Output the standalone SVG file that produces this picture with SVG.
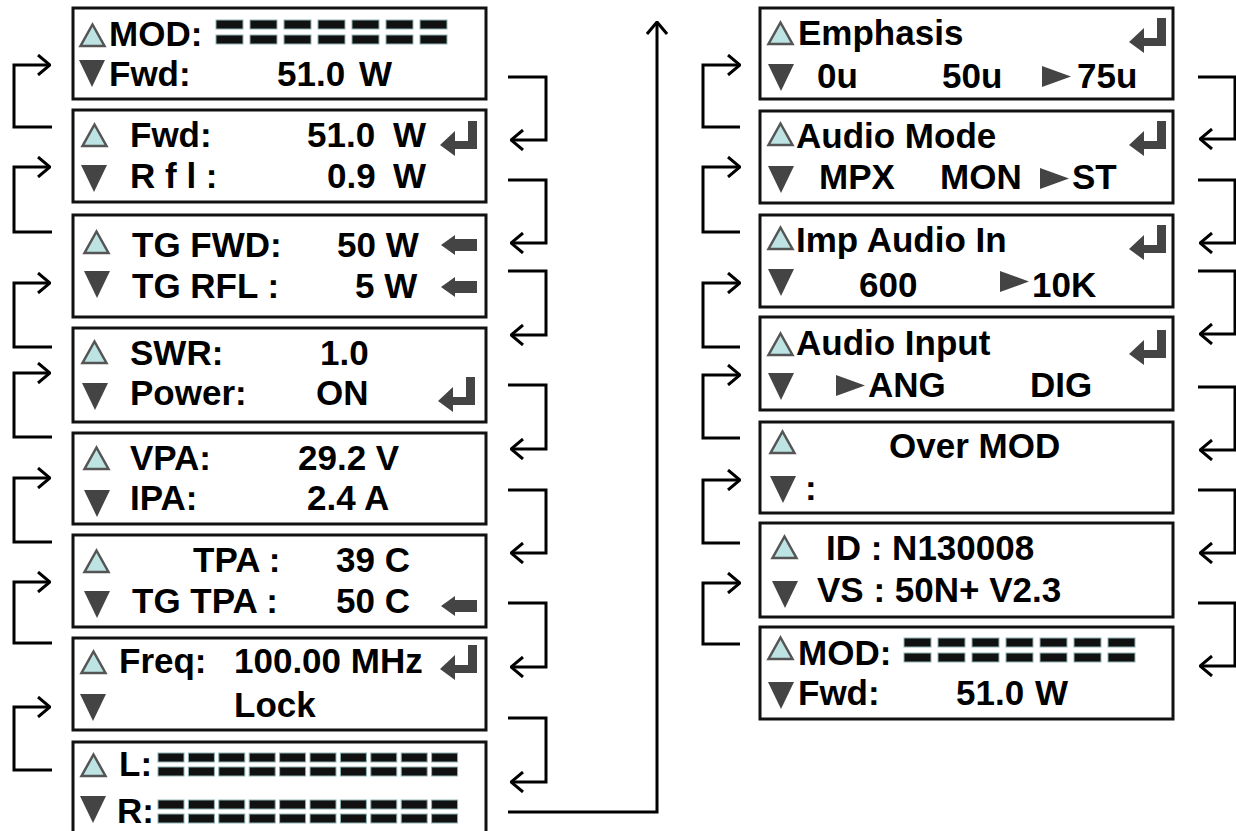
<svg xmlns="http://www.w3.org/2000/svg" xmlns:xlink="http://www.w3.org/1999/xlink" width="1236" height="831" viewBox="0 0 1236 831">
<style>
.box{fill:#fff;stroke:#111;stroke-width:3}
.t{font-family:"Liberation Sans",Arial,sans-serif;font-weight:bold;font-size:35px;fill:#000}
.c{fill:none;stroke:#000;stroke-width:3;marker-end:url(#ah)}
.up{fill:#bde3e3;stroke:#555;stroke-width:2.5;stroke-linejoin:miter}
.dk{fill:#444}
.bar{fill:#111;stroke:#8fb3b3;stroke-width:1}
</style>
<defs>
<marker id="ah" viewBox="0 0 14 22" refX="13" refY="11" markerWidth="14" markerHeight="22" orient="auto" markerUnits="userSpaceOnUse"><path d="M1,1 L13,11 L1,21" fill="none" stroke="#000" stroke-width="3"/></marker>
<polygon id="up" class="up" points="12.5,1.5 24.5,23 0.5,23"/>
<polygon id="dn" class="dk" points="0,0 26,0 13,27"/>
<path id="ent" class="dk" d="M37,0 H28 V20 H15 V10 L0,24 L15,35 V28 H37 Z"/>
<path id="la" class="dk" d="M0,10 L14,0 V4 H36 V16 H14 V20 Z"/>
<polygon id="rt" class="dk" points="0,0 29,10.5 0,21"/>
<g id="bars7">
<rect class="bar" x="0" y="0" width="27" height="9"/><rect class="bar" x="0" y="15" width="27" height="9"/>
<rect class="bar" x="34" y="0" width="27" height="9"/><rect class="bar" x="34" y="15" width="27" height="9"/>
<rect class="bar" x="68" y="0" width="27" height="9"/><rect class="bar" x="68" y="15" width="27" height="9"/>
<rect class="bar" x="102" y="0" width="27" height="9"/><rect class="bar" x="102" y="15" width="27" height="9"/>
<rect class="bar" x="136" y="0" width="27" height="9"/><rect class="bar" x="136" y="15" width="27" height="9"/>
<rect class="bar" x="170" y="0" width="27" height="9"/><rect class="bar" x="170" y="15" width="27" height="9"/>
<rect class="bar" x="204" y="0" width="27" height="9"/><rect class="bar" x="204" y="15" width="27" height="9"/>
</g>
<g id="bars10">
<rect class="bar" x="0" y="0" width="26" height="9"/><rect class="bar" x="0" y="14" width="26" height="9"/>
<rect class="bar" x="30.4" y="0" width="26" height="9"/><rect class="bar" x="30.4" y="14" width="26" height="9"/>
<rect class="bar" x="60.8" y="0" width="26" height="9"/><rect class="bar" x="60.8" y="14" width="26" height="9"/>
<rect class="bar" x="91.2" y="0" width="26" height="9"/><rect class="bar" x="91.2" y="14" width="26" height="9"/>
<rect class="bar" x="121.6" y="0" width="26" height="9"/><rect class="bar" x="121.6" y="14" width="26" height="9"/>
<rect class="bar" x="152" y="0" width="26" height="9"/><rect class="bar" x="152" y="14" width="26" height="9"/>
<rect class="bar" x="182.4" y="0" width="26" height="9"/><rect class="bar" x="182.4" y="14" width="26" height="9"/>
<rect class="bar" x="212.8" y="0" width="26" height="9"/><rect class="bar" x="212.8" y="14" width="26" height="9"/>
<rect class="bar" x="243.2" y="0" width="26" height="9"/><rect class="bar" x="243.2" y="14" width="26" height="9"/>
<rect class="bar" x="273.6" y="0" width="26" height="9"/><rect class="bar" x="273.6" y="14" width="26" height="9"/>
</g>
</defs>
<rect width="1236" height="831" fill="#fff"/>

<g id="connectors">
<path class="c" d="M52,127 H14 V65 H50"/>
<path class="c" d="M52,232 H14 V167 H50"/>
<path class="c" d="M52,347 H14 V283 H50"/>
<path class="c" d="M52,437 H14 V373 H50"/>
<path class="c" d="M52,542 H14 V478 H50"/>
<path class="c" d="M52,643 H14 V582 H50"/>
<path class="c" d="M52,770 H14 V707 H50"/>
<path class="c" d="M508,77 H546 V140 H511"/>
<path class="c" d="M508,180 H546 V243 H511"/>
<path class="c" d="M508,271 H546 V335 H511"/>
<path class="c" d="M508,385 H546 V449 H511"/>
<path class="c" d="M508,490 H546 V553 H511"/>
<path class="c" d="M508,603 H546 V667 H511"/>
<path class="c" d="M508,718 H546 V782 H511"/>
<path class="c" d="M508,812 H657 V22"/>
<path class="c" d="M740,127 H703 V65 H740"/>
<path class="c" d="M740,232 H703 V167 H740"/>
<path class="c" d="M740,347 H703 V283 H740"/>
<path class="c" d="M740,438 H703 V375 H740"/>
<path class="c" d="M740,543 H703 V480 H740"/>
<path class="c" d="M740,644 H703 V583 H740"/>
<path class="c" d="M1198,77 H1235 V139 H1200"/>
<path class="c" d="M1198,180 H1235 V243 H1200"/>
<path class="c" d="M1198,271 H1235 V334 H1200"/>
<path class="c" d="M1198,387 H1235 V450 H1200"/>
<path class="c" d="M1198,490 H1235 V553 H1200"/>
<path class="c" d="M1198,603 H1235 V666 H1200"/>
</g>

<g id="node-l1">
<rect class="box" x="73" y="8" width="413" height="91"/>
<use href="#up" x="80" y="23"/>
<text class="t" x="109" y="46">MOD:</text>
<use href="#bars7" x="216" y="20"/>
<use href="#dn" x="79" y="60"/>
<text class="t" x="109" y="86">Fwd:</text>
<text class="t" x="277" y="86">51.0</text>
<text class="t" x="359" y="86">W</text>
</g>

<g id="node-l2">
<rect class="box" x="73" y="110" width="413" height="92"/>
<use href="#up" x="82" y="123"/>
<text class="t" x="130" y="147">Fwd:</text>
<text class="t" x="307" y="147">51.0</text>
<text class="t" x="393" y="147">W</text>
<use href="#ent" x="440" y="121"/>
<use href="#dn" x="81" y="165"/>
<text class="t" x="130" y="188">R f l :</text>
<text class="t" x="327" y="188">0.9</text>
<text class="t" x="393" y="188">W</text>
</g>

<g id="node-l3">
<rect class="box" x="73" y="215" width="413" height="102"/>
<use href="#up" x="84" y="230"/>
<text class="t" x="132" y="257">TG FWD:</text>
<text class="t" x="337" y="257">50 W</text>
<use href="#la" x="441" y="235"/>
<use href="#dn" x="84" y="271"/>
<text class="t" x="132" y="298">TG RFL :</text>
<text class="t" x="355" y="298">5 W</text>
<use href="#la" x="441" y="277"/>
</g>

<g id="node-l4">
<rect class="box" x="73" y="328" width="413" height="94"/>
<use href="#up" x="82" y="340"/>
<text class="t" x="130" y="365">SWR:</text>
<text class="t" x="320" y="365">1.0</text>
<use href="#dn" x="82" y="383"/>
<text class="t" x="130" y="405">Power:</text>
<text class="t" x="316" y="405">ON</text>
<use href="#ent" x="438" y="377"/>
</g>

<g id="node-l5">
<rect class="box" x="73" y="433" width="413" height="91"/>
<use href="#up" x="84" y="446"/>
<text class="t" x="130" y="470">VPA:</text>
<text class="t" x="298" y="470">29.2 V</text>
<use href="#dn" x="84" y="490"/>
<text class="t" x="130" y="510">IPA:</text>
<text class="t" x="307" y="510">2.4 A</text>
</g>

<g id="node-l6">
<rect class="box" x="73" y="535" width="413" height="92"/>
<use href="#up" x="84" y="549"/>
<text class="t" x="193" y="572">TPA :</text>
<text class="t" x="336" y="572">39 C</text>
<use href="#dn" x="84" y="591"/>
<text class="t" x="132" y="613">TG TPA :</text>
<text class="t" x="336" y="613">50 C</text>
<use href="#la" x="441" y="596"/>
</g>

<g id="node-l7">
<rect class="box" x="73" y="638" width="413" height="92"/>
<use href="#up" x="81" y="650"/>
<text class="t" x="119" y="673">Freq:</text>
<text class="t" x="234" y="673">100.00 MHz</text>
<use href="#ent" x="440" y="645"/>
<use href="#dn" x="80" y="694"/>
<text class="t" x="234" y="717">Lock</text>
</g>

<g id="node-l8">
<rect class="box" x="73" y="742" width="413" height="100"/>
<use href="#up" x="81" y="753"/>
<text class="t" x="119" y="776">L:</text>
<use href="#bars10" x="158" y="753"/>
<use href="#dn" x="80" y="796"/>
<text class="t" x="117" y="823">R:</text>
<use href="#bars10" x="158" y="800"/>
</g>

<g id="node-r1">
<rect class="box" x="760" y="8" width="413" height="91"/>
<use href="#up" x="768" y="21"/>
<text class="t" x="798" y="45">Emphasis</text>
<use href="#ent" x="1129" y="18"/>
<use href="#dn" x="768" y="64"/>
<text class="t" x="817" y="88">0u</text>
<text class="t" x="942" y="88">50u</text>
<use href="#rt" x="1042" y="66"/>
<text class="t" x="1077" y="88">75u</text>
</g>

<g id="node-r2">
<rect class="box" x="760" y="111" width="413" height="92"/>
<use href="#up" x="768" y="122"/>
<text class="t" x="796" y="148">Audio Mode</text>
<use href="#ent" x="1129" y="121"/>
<use href="#dn" x="768" y="166"/>
<text class="t" x="819" y="189">MPX</text>
<text class="t" x="940" y="189">MON</text>
<use href="#rt" x="1040" y="168"/>
<text class="t" x="1072" y="189">ST</text>
</g>

<g id="node-r3">
<rect class="box" x="760" y="215" width="413" height="92"/>
<use href="#up" x="768" y="226"/>
<text class="t" x="796" y="252">Imp Audio In</text>
<use href="#ent" x="1129" y="225"/>
<use href="#dn" x="768" y="269"/>
<text class="t" x="859" y="297">600</text>
<use href="#rt" x="1000" y="271"/>
<text class="t" x="1032" y="297">10K</text>
</g>

<g id="node-r4">
<rect class="box" x="760" y="317" width="413" height="93"/>
<use href="#up" x="768" y="332"/>
<text class="t" x="796" y="355">Audio Input</text>
<use href="#ent" x="1129" y="330"/>
<use href="#dn" x="768" y="373"/>
<use href="#rt" x="836" y="375"/>
<text class="t" x="868" y="397">ANG</text>
<text class="t" x="1030" y="397">DIG</text>
</g>

<g id="node-r5">
<rect class="box" x="760" y="422" width="413" height="91"/>
<use href="#up" x="770" y="430"/>
<text class="t" x="889" y="458">Over MOD</text>
<use href="#dn" x="770" y="476"/>
<text class="t" x="805" y="500">:</text>
</g>

<g id="node-r6">
<rect class="box" x="760" y="523" width="413" height="94"/>
<use href="#up" x="772" y="535"/>
<text class="t" x="826" y="560">ID : N130008</text>
<use href="#dn" x="772" y="581"/>
<text class="t" x="817" y="602">VS : 50N+ V2.3</text>
</g>

<g id="node-r7">
<rect class="box" x="760" y="627" width="413" height="92"/>
<use href="#up" x="768" y="636"/>
<text class="t" x="798" y="665">MOD:</text>
<use href="#bars7" x="904" y="638"/>
<use href="#dn" x="768" y="682"/>
<text class="t" x="798" y="705">Fwd:</text>
<text class="t" x="956" y="705">51.0</text>
<text class="t" x="1035" y="705">W</text>
</g>
</svg>
